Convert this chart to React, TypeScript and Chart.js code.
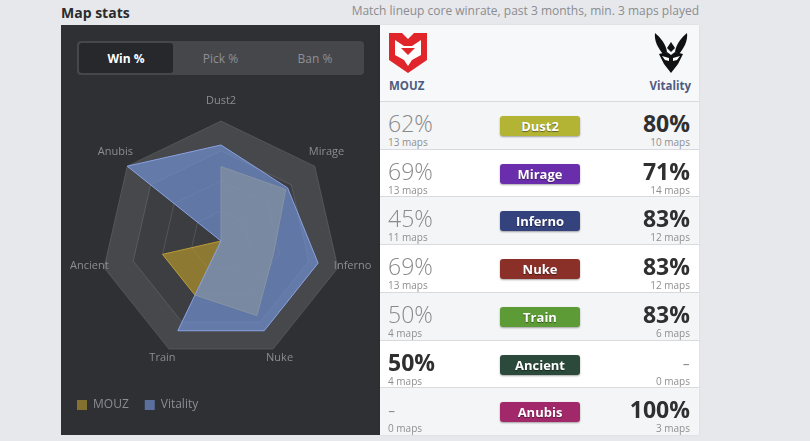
import React, { useEffect, useRef } from "react";
import { Chart, registerables } from "chart.js";

Chart.register(...registerables);

const MAPS = ["Dust2", "Mirage", "Inferno", "Nuke", "Train", "Ancient", "Anubis"];
const TEAMS = ["MOUZ", "Vitality"];
const MOUZ_WIN = [62, 69, 45, 69, 50, 50, 0];
const VIT_WIN = [80, 71, 83, 83, 83, 0, 100];
const MOUZ_MAPS = [13, 13, 11, 13, 4, 4, 0];
const VIT_MAPS = [10, 14, 12, 12, 6, 0, 3];
const MAP_COLORS = ["#b3b434", "#6a2ead", "#34427e", "#8a3029", "#5c9b35", "#2b4a3b", "#a1296a"];
const RING_TICKS = [100, 75, 50, 25];
const TABS = ["Win %", "Pick %", "Ban %"];

const FONT = '"Open Sans", sans-serif';

const radarDecor = {
  id: "radarDecor",
  beforeDraw(chart: any) {
    const s = chart.scales.r;
    const ctx = chart.ctx;
    const n = chart.data.labels.length;
    const colors = ["#47484b", "#3d3e41", "#3c3d40", "#3b3c3f"];
    RING_TICKS.forEach((v, k) => {
      const d = s.getDistanceFromCenterForValue(v);
      ctx.save();
      ctx.beginPath();
      for (let i = 0; i < n; i++) {
        const p = s.getPointPosition(i, d);
        if (i === 0) ctx.moveTo(p.x, p.y);
        else ctx.lineTo(p.x, p.y);
      }
      ctx.closePath();
      ctx.fillStyle = colors[k];
      ctx.fill();
      ctx.restore();
    });
  },
  afterDatasetsDraw(chart: any) {
    const s = chart.scales.r;
    const ctx = chart.ctx;
    const labels = chart.data.labels;
    ctx.save();
    ctx.font = `11px ${FONT}`;
    ctx.fillStyle = "#8b8d91";
    ctx.textAlign = "center";
    ctx.textBaseline = "middle";
    labels.forEach((l: string, i: number) => {
      const p = s.getPointPosition(i, s.drawingArea + 15);
      ctx.fillText(l, p.x, p.y - 5);
    });
    ctx.restore();
  },
};

function MouzLogo() {
  return (
    <svg width={38} height={40} viewBox="0 0 38 40" style={{ position: "absolute", left: 9, top: 8 }}>
      <path d="M0,0 L13,0 L19,6 L25,0 L38,0 L38,27 L19,40 L0,27 Z" fill="#e0262b" />
      <path d="M6,7 L15,13 L23,13 L32,7 L32,22 L23,27 L19,33 L15,27 L6,22 Z" fill="#ffffff" />
      <path d="M12,15 L26,15 L19,22 Z" fill="#e0262b" />
    </svg>
  );
}

function VitalityLogo() {
  return (
    <svg width={34} height={40} viewBox="0 0 34 40" style={{ position: "absolute", left: 274, top: 8 }}>
      <path d="M1,0 C6,4 12,11 13,19 L9,21 C4,15 0,8 1,0 Z" fill="#111" />
      <path d="M33,0 C28,4 22,11 21,19 L25,21 C30,15 34,8 33,0 Z" fill="#111" />
      <path d="M17,9 L21,15 L17,19 L13,15 Z" fill="#111" />
      <path d="M5,21 L13,19 L17,22 L21,19 L29,21 L24,31 L17,40 L10,31 Z" fill="#111" />
      <path d="M8,23 L15,25 L15,28 L11,27 Z" fill="#fff" />
      <path d="M26,23 L19,25 L19,28 L23,27 Z" fill="#fff" />
    </svg>
  );
}

function RadarChart() {
  const ref = useRef<HTMLCanvasElement>(null);
  useEffect(() => {
    const chart = new Chart(ref.current as HTMLCanvasElement, {
      type: "radar",
      data: {
        labels: MAPS,
        datasets: [
          {
            label: TEAMS[0],
            data: MOUZ_WIN,
            order: 1,
            backgroundColor: "rgba(196,162,42,0.6)",
            borderColor: "#b89b3a",
            borderWidth: 1,
            pointRadius: 0,
            fill: "start",
          },
          {
            label: TEAMS[1],
            data: VIT_WIN,
            order: 0,
            backgroundColor: "rgba(112,144,208,0.7)",
            borderColor: "#8aa2e2",
            borderWidth: 1,
            pointRadius: 0,
            fill: "start",
          },
        ],
      },
      options: {
        animation: false,
        responsive: false,
        maintainAspectRatio: false,
        layout: { padding: { top: 36, bottom: 14, left: 0, right: 0 } },
        font: { family: FONT },
        scales: {
          r: {
            min: 0,
            max: 100,
            ticks: { display: false, stepSize: 25 },
            grid: { color: "rgba(255,255,255,0.12)", lineWidth: 1 },
            angleLines: { display: false },
            pointLabels: { display: false },
          },
        },
        plugins: {
          tooltip: { enabled: false },
          legend: {
            position: "bottom",
            align: "start",
            title: { display: true, text: "", padding: { top: 12, bottom: 0 }, font: { size: 10, lineHeight: 1 } },
            labels: {
              boxWidth: 10,
              boxHeight: 10,
              padding: 16,
              color: "#8b8d91",
              font: { size: 12, family: FONT },
              sort: (a: any, b: any) => a.datasetIndex - b.datasetIndex,
              generateLabels: (c: any) => {
                const items = (Chart as any).defaults.plugins.legend.labels.generateLabels(c);
                const fills = ["#85712f", "#5b6f9f"];
                return items.map((it: any) => ({ ...it, lineWidth: 0, fillStyle: fills[it.datasetIndex] }));
              },
            },
          },
        },
      },
      plugins: [radarDecor],
    } as any);
    return () => chart.destroy();
  }, []);
  return (
    <canvas
      ref={ref}
      width={320}
      height={350}
      style={{ position: "absolute", left: 0, top: 60, width: 320, height: 350 }}
    />
  );
}

function fmt(v: number, maps: number) {
  return maps === 0 ? "-" : `${v}%`;
}

export default function App() {
  const rowTops = MAPS.map((_, i) => Math.round(76 + i * 47.71));
  return (
    <div
      style={{
        position: "fixed",
        left: 0,
        top: 0,
        width: 810,
        height: 441,
        background: "#e7e8eb",
        fontFamily: FONT,
        overflow: "hidden",
      }}
    >
      <div style={{ position: "absolute", left: 61, top: 2, fontSize: 14, fontWeight: 700, color: "#2b2b2b", lineHeight: "22px" }}>
        Map stats
      </div>
      <div style={{ position: "absolute", right: 111, top: 2, fontSize: 12, color: "#8b8c90", lineHeight: "18px", whiteSpace: "nowrap" }}>
        Match lineup core winrate, past 3 months, min. 3 maps played
      </div>

      <div style={{ position: "absolute", left: 61, top: 25, width: 319, height: 410, background: "#2e3034", overflow: "hidden" }}>
        <div style={{ position: "absolute", left: 16, top: 16, width: 287, height: 34, background: "#45474b", borderRadius: 4 }}>
          {TABS.map((t, i) => (
            <div
              key={t}
              style={{
                position: "absolute",
                left: 2 + i * 94.5,
                top: 2,
                width: 94,
                height: 30,
                borderRadius: 3,
                background: i === 0 ? "#26282c" : "transparent",
                color: i === 0 ? "#ffffff" : "#8e9095",
                fontWeight: i === 0 ? 700 : 400,
                fontSize: 12,
                display: "flex",
                alignItems: "center",
                justifyContent: "center",
              }}
            >
              {t}
            </div>
          ))}
        </div>
        <RadarChart />
      </div>

      <div style={{ position: "absolute", left: 380, top: 25, width: 319, height: 410, background: "#ffffff", overflow: "hidden", boxShadow: "0 0 2px rgba(0,0,0,0.08)" }}>
        <div style={{ position: "absolute", left: 0, top: 0, width: 319, height: 76, background: "#f7f8fa" }}>
          <MouzLogo />
          <VitalityLogo />
          <div style={{ position: "absolute", left: 9, top: 53, fontSize: 11.5, fontWeight: 700, color: "#4e5b80", lineHeight: "16px" }}>
            {TEAMS[0]}
          </div>
          <div style={{ position: "absolute", right: 8, top: 53, fontSize: 11.5, fontWeight: 700, color: "#4e5b80", lineHeight: "16px" }}>
            {TEAMS[1]}
          </div>
        </div>
        {MAPS.map((m, i) => {
          const top = rowTops[i];
          const h = (i < MAPS.length - 1 ? rowTops[i + 1] : 410) - top;
          const lMaps = MOUZ_MAPS[i];
          const rMaps = VIT_MAPS[i];
          const leftWin = rMaps === 0 || (lMaps > 0 && MOUZ_WIN[i] > VIT_WIN[i]);
          const rightWin = lMaps === 0 || (rMaps > 0 && VIT_WIN[i] > MOUZ_WIN[i]);
          const numStyle = (win: boolean, empty: boolean): React.CSSProperties => ({
            position: "absolute",
            top: 9,
            fontSize: 23,
            lineHeight: "24px",
            fontWeight: win && !empty ? 700 : 300,
            color: win && !empty ? "#2f2f2f" : "#8a8a8a",
          });
          return (
            <div
              key={m}
              style={{
                position: "absolute",
                left: 0,
                top,
                width: 319,
                height: h,
                background: i % 2 === 0 ? "#f4f5f7" : "#ffffff",
                borderTop: "1px solid #d9dadd",
                boxSizing: "border-box",
              }}
            >
              <div style={{ ...numStyle(leftWin, lMaps === 0), left: 8 }}>{fmt(MOUZ_WIN[i], lMaps)}</div>
              <div style={{ position: "absolute", left: 8, top: 34, fontSize: 10, lineHeight: "12px", color: "#8f8f8f" }}>
                {lMaps} maps
              </div>
              <div style={{ ...numStyle(rightWin, rMaps === 0), right: 9 }}>{fmt(VIT_WIN[i], rMaps)}</div>
              <div style={{ position: "absolute", right: 9, top: 34, fontSize: 10, lineHeight: "12px", color: "#8f8f8f" }}>
                {rMaps} maps
              </div>
              <div
                style={{
                  position: "absolute",
                  left: 120,
                  top: 14,
                  width: 80,
                  height: 20,
                  borderRadius: 3,
                  background: MAP_COLORS[i],
                  boxShadow: "0 1px 2px rgba(0,0,0,0.35)",
                  color: "#ffffff",
                  fontWeight: 700,
                  fontSize: 13,
                  lineHeight: "20px",
                  textAlign: "center",
                  textShadow: "0 1px 1px rgba(0,0,0,0.45)",
                }}
              >
                {m}
              </div>
            </div>
          );
        })}
      </div>
    </div>
  );
}
